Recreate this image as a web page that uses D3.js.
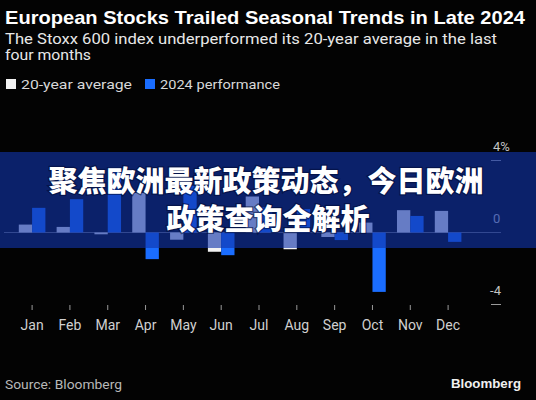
<!DOCTYPE html>
<html>
<head>
<meta charset="utf-8">
<script src="https://cdn.jsdelivr.net/npm/d3@7"></script>
<style>
  html, body { margin: 0; padding: 0; background: #000; }
  svg { display: block; }
</style>
</head>
<body>
<script>
// Monthly Stoxx 600 returns (%)
const months = ["Jan","Feb","Mar","Apr","May","Jun","Jul","Aug","Sep","Oct","Nov","Dec"];
const avg20 = [0.44, 0.31, -0.1, 2.2, -0.4, -1.07, 2.0, -0.93, -0.25, 0.55, 1.24, 1.2];
const perf2024 = [1.37, 1.85, 3.6, -1.48, 2.6, -1.26, 1.4, 1.3, -0.42, -3.3, 0.92, -0.52];
const yTicks = [4, 0, -4];
const seriesNames = ["20-year average", "2024 performance"];
const seriesColors = ["#f2f2f2", "#1a6dff"];

const W = 536, H = 400;
const svg = d3.select("body").append("svg").attr("width", W).attr("height", H);
svg.append("rect").attr("width", W).attr("height", H).attr("fill", "#030303");

const x = d3.scalePoint().domain(months).range([32.1, 448.1]);
const sub = d3.scaleBand().domain([0, 1]).range([-13.3, 13.3]);
const y = d3.scaleLinear().domain([-4, 4]).range([304.5, 160.5]);

// Title block
svg.append("text").attr("x", 5).attr("y", 24)
  .attr("font-family", "Liberation Sans, Arial, sans-serif").attr("font-weight", 700)
  .attr("font-size", 18.5).attr("fill", "#ffffff")
  .attr("textLength", 520).attr("lengthAdjust", "spacingAndGlyphs")
  .text("European Stocks Trailed Seasonal Trends in Late 2024");
const sub1 = svg.append("g").attr("font-family", "Roboto, sans-serif").attr("font-size", 14.5).attr("fill", "#e8e8e8");
sub1.append("text").attr("x", 5).attr("y", 44).attr("textLength", 492).attr("lengthAdjust", "spacingAndGlyphs")
  .text("The Stoxx 600 index underperformed its 20-year average in the last");
sub1.append("text").attr("x", 5).attr("y", 60).attr("textLength", 86).attr("lengthAdjust", "spacingAndGlyphs")
  .text("four months");

// Legend
const legX = [6, 145], legTextX = [21, 160], legW = [111, 120];
const leg = svg.append("g").attr("font-family", "Roboto, sans-serif").attr("font-size", 13.5).attr("fill", "#d8d8d8");
seriesNames.forEach((n, i) => {
  leg.append("rect").attr("x", legX[i]).attr("y", 79).attr("width", 10).attr("height", 10).attr("fill", seriesColors[i]);
  leg.append("text").attr("x", legTextX[i]).attr("y", 88.5)
    .attr("textLength", legW[i]).attr("lengthAdjust", "spacingAndGlyphs").text(n);
});

// Right-hand axis: short dashes with labels sitting above them
const axis = svg.append("g").attr("font-family", "Roboto, sans-serif").attr("font-size", 13).attr("fill", "#c4c4c4");
yTicks.forEach(t => {
  if (t !== 0) {
    axis.append("line").attr("x1", 491).attr("x2", 501).attr("y1", y(t)).attr("y2", y(t))
      .attr("stroke", "#9a9a9a").attr("stroke-width", 1);
  }
  const lbl = t === 4 ? "4%" : String(t);
  axis.append("text")
    .attr("x", t < 0 ? 501 : 493).attr("y", y(t) - 9.5)
    .attr("text-anchor", t < 0 ? "end" : "start")
    .text(lbl);
});

// Zero line
svg.append("line").attr("x1", 4).attr("x2", 501).attr("y1", y(0)).attr("y2", y(0))
  .attr("stroke", "#6a6a6a").attr("stroke-width", 1.2);

// Bars
const groups = svg.append("g").selectAll("g").data(months).join("g")
  .attr("transform", d => `translate(${x(d)},0)`);
groups.selectAll("rect")
  .data((d, i) => [avg20[i], perf2024[i]])
  .join("rect")
  .attr("x", (v, j) => sub(j))
  .attr("width", sub.bandwidth())
  .attr("y", v => y(Math.max(0, v)))
  .attr("height", v => Math.abs(y(v) - y(0)))
  .attr("fill", (v, j) => seriesColors[j]);

// Month axis
const xAxis = svg.append("g");
xAxis.selectAll("line").data(months).join("line")
  .attr("x1", d => x(d)).attr("x2", d => x(d)).attr("y1", 305).attr("y2", 310)
  .attr("stroke", "#9a9a9a").attr("stroke-width", 1);
xAxis.selectAll("text").data(months).join("text")
  .attr("x", d => x(d)).attr("y", 329.5).attr("text-anchor", "middle")
  .attr("font-family", "Roboto, sans-serif").attr("font-size", 14).attr("fill", "#d0d0d0")
  .text(d => d);

// Footer
svg.append("text").attr("x", 5).attr("y", 389)
  .attr("font-family", "Roboto, sans-serif").attr("font-size", 13.5).attr("fill", "#b8b8b8")
  .attr("textLength", 117).attr("lengthAdjust", "spacingAndGlyphs")
  .text("Source: Bloomberg");
svg.append("text").attr("x", 521).attr("y", 388).attr("text-anchor", "end")
  .attr("font-family", "Liberation Sans, Arial, sans-serif").attr("font-weight", 700)
  .attr("font-size", 13).attr("fill", "#f0f0f0")
  .attr("textLength", 70).attr("lengthAdjust", "spacingAndGlyphs")
  .text("Bloomberg");

// Headline banner across the chart
svg.append("rect").attr("x", 0).attr("y", 152).attr("width", W).attr("height", 96)
  .attr("fill", "rgb(16,52,170)").attr("fill-opacity", 0.62);
const head = svg.append("g")
  .attr("font-family", "Noto Sans CJK SC, sans-serif").attr("font-weight", 900)
  .attr("font-size", 29).attr("fill", "#ffffff").attr("text-anchor", "middle")
  .attr("letter-spacing", 0)
  .attr("stroke", "rgba(0,10,50,0.55)").attr("stroke-width", 2.5).attr("paint-order", "stroke");
head.append("text").attr("x", 266).attr("y", 192).text("聚焦欧洲最新政策动态，今日欧洲");
head.append("text").attr("x", 268).attr("y", 230).text("政策查询全解析");
</script>
</body>
</html>
